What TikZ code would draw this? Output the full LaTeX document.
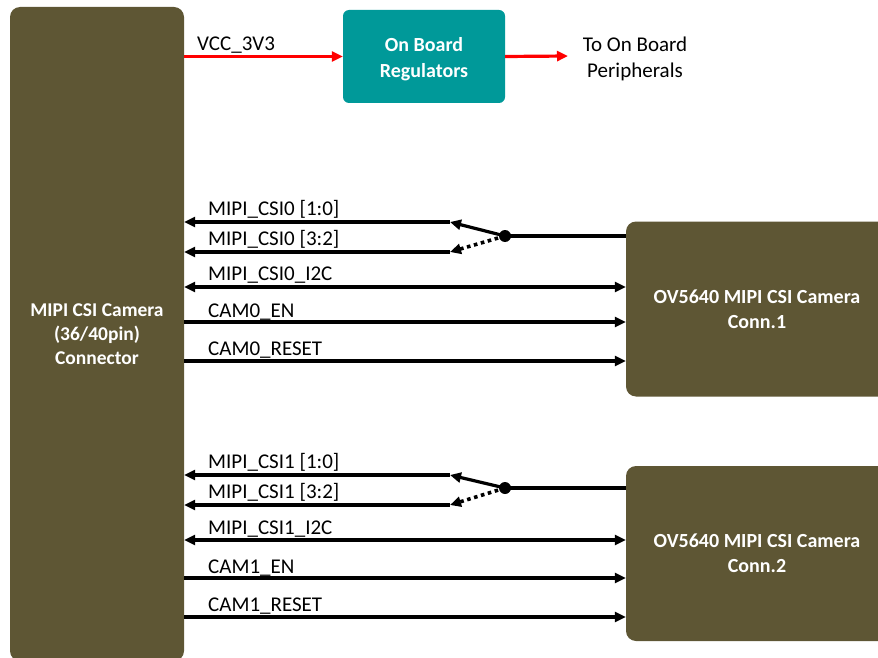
\documentclass[tikz,border=0pt]{standalone}
\usepackage{fontspec}
\setmainfont{Carlito}
\usetikzlibrary{arrows.meta}
\definecolor{olive}{RGB}{94,86,52}
\definecolor{teal2}{RGB}{0,153,153}
\definecolor{redline}{RGB}{255,0,0}
\begin{document}
\begin{tikzpicture}[x=1pt,y=-1pt,
  blk/.style={draw=none,fill=olive,rounded corners=10pt,text=white,font=\bfseries\fontsize{19.5}{24}\selectfont,align=center,inner sep=0pt},
  lbl/.style={anchor=base west,font=\fontsize{21}{24}\selectfont,inner sep=0pt},
  sig/.style={line width=3.2pt},
  redsig/.style={line width=3.2pt,draw=redline,-{Triangle[length=11pt,width=10pt]}},
  sdot/.style={circle,fill=black,inner sep=0pt,minimum size=12pt}]
\useasboundingbox (0,0) rectangle (878,658);
\clip (0,0) rectangle (878,658);
% blocks
\node[blk,minimum width=174pt,minimum height=654pt] (conn) at (97,334) {MIPI CSI Camera\\(36/40pin)\\Connector};
\node[blk,fill=teal2,rounded corners=6pt,minimum width=162pt,minimum height=93pt] (reg) at (424,56.5) {};
\node[text=white,font=\bfseries\fontsize{20}{26}\selectfont,align=center,inner sep=0pt] (regtxt) at (424,59) {On Board\\Regulators};
\node[blk,minimum width=262pt,minimum height=175pt,font=\bfseries\fontsize{20}{25}\selectfont] (camA) at (757,309) {OV5640 MIPI CSI Camera\\Conn.1};
\node[blk,minimum width=262pt,minimum height=175pt,font=\bfseries\fontsize{20}{25}\selectfont] (camB) at (757,553.5) {OV5640 MIPI CSI Camera\\Conn.2};
% power
\coordinate (pout) at (568,56);
\node[align=center,font=\fontsize{21}{26}\selectfont] (periph) at (635,59) {To On Board\\Peripherals};
\draw[redsig] (conn.east |- reg.west) -- (reg.west);
\draw[redsig] (reg.east) -- (pout);
\node[lbl] (lvcc) at (197,51) {VCC\_3V3};
% signal groups
\foreach \g/\c/\yA/\yB/\yD/\yI/\yE/\yR in {0/camA/222/252/236/287/322/361, 1/camB/475/505/488/540/578/617}{
  \coordinate (sw\g) at (505,\yD);
  \coordinate (ta\g) at (450,\yA);
  \coordinate (tb\g) at (450,\yB);
  \draw[sig] (\c.west |- sw\g) -- (sw\g);
  \node[sdot] (d\g) at (sw\g) {};
  \draw[sig,-{Triangle[length=11pt,width=10pt]}] (d\g.center) -- (ta\g);
  \draw[line width=3.6pt,dash pattern=on 3.6pt off 3.6pt,-{Triangle[length=11pt,width=10pt]}] (d\g.center) -- (tb\g);
  \draw[sig,-{Triangle[length=11pt,width=10pt]}] (ta\g) -- (conn.east |- ta\g);
  \draw[sig,-{Triangle[length=11pt,width=10pt]}] (tb\g) -- (conn.east |- tb\g);
  \draw[sig,{Triangle[length=11pt,width=10pt]}-{Triangle[length=11pt,width=10pt]}] (conn.east |- 0,\yI) -- (\c.west |- 0,\yI);
  \draw[sig,-{Triangle[length=11pt,width=10pt]}] (conn.east |- 0,\yE) -- (\c.west |- 0,\yE);
  \draw[sig,-{Triangle[length=11pt,width=10pt]}] (conn.east |- 0,\yR) -- (\c.west |- 0,\yR);
}
\node[lbl] (l1) at (208,215) {MIPI\_CSI0 [1:0]};
\node[lbl] (l2) at (208,245) {MIPI\_CSI0 [3:2]};
\node[lbl] (l3) at (208,280) {MIPI\_CSI0\_I2C};
\node[lbl] (l4) at (208,317) {CAM0\_EN};
\node[lbl] (l5) at (208,355) {CAM0\_RESET};
\node[lbl] (m1) at (208,468) {MIPI\_CSI1 [1:0]};
\node[lbl] (m2) at (208,498) {MIPI\_CSI1 [3:2]};
\node[lbl] (m3) at (208,534) {MIPI\_CSI1\_I2C};
\node[lbl] (m4) at (208,573) {CAM1\_EN};
\node[lbl] (m5) at (208,611) {CAM1\_RESET};
\end{tikzpicture}
\end{document}
